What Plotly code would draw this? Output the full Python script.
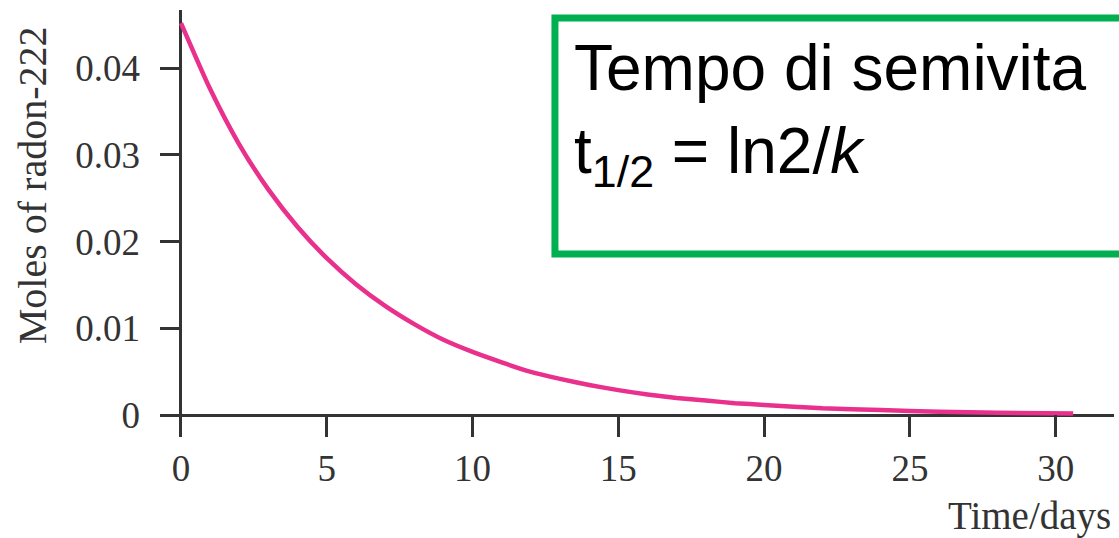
import plotly.graph_objects as go

# values
days = [0, 1, 2, 3, 4, 5, 6, 7, 8, 9, 10, 11, 12, 13, 14, 15, 16, 17, 18, 19,
        20, 22, 24, 26, 28, 30.6]
moles = [0.0452, 0.0376, 0.0312, 0.0260, 0.0217, 0.0181, 0.0151, 0.0126,
         0.0105, 0.0087, 0.0073, 0.0061, 0.0050, 0.0042, 0.0035, 0.0029,
         0.0024, 0.0020, 0.0017, 0.0014, 0.0012, 0.0008, 0.0006, 0.0004,
         0.0003, 0.0002]

x_ticks = [0, 5, 10, 15, 20, 25, 30]
y_ticks = [0, 0.01, 0.02, 0.03, 0.04]
y_tick_text = ['0', '0.01', '0.02', '0.03', '0.04']

axis_col = '#333333'
serif = 'Liberation Serif, Times New Roman, serif'

fig = go.Figure()
fig.add_trace(go.Scatter(x=days, y=moles, mode='lines',
                         line=dict(color='#E8308C', width=4.5, shape='spline', smoothing=0.6),
                         showlegend=False))

fig.update_xaxes(range=[-0.72, 32.0], tickvals=x_ticks, ticks='inside', ticklen=22,
                 tickwidth=3, tickcolor=axis_col, showgrid=False, showline=False,
                 zeroline=True, zerolinecolor=axis_col, zerolinewidth=3,
                 tickfont=dict(family=serif, size=37, color=axis_col),
                 ticklabelstandoff=6)
fig.update_yaxes(range=[-0.0025, 0.0467], tickvals=y_ticks, ticktext=y_tick_text,
                 ticks='inside', ticklen=21, tickwidth=3, tickcolor=axis_col,
                 showgrid=False, showline=False,
                 zeroline=True, zerolinecolor=axis_col, zerolinewidth=3,
                 tickfont=dict(family=serif, size=37, color=axis_col),
                 ticklabelstandoff=19)

# green box with the half-life note
fig.add_shape(type='rect', xref='paper', yref='paper',
              x0=0.414, x1=1.03, y0=0.4286, y1=0.981,
              line=dict(color='#00B050', width=7))
fig.add_annotation(xref='paper', yref='paper', x=0.432, y=0.952,
                   xanchor='left', yanchor='top', align='left', showarrow=False,
                   text='Tempo di semivita<br>t<sub>1/2</sub> = ln2/<i>k</i>',
                   font=dict(family='Liberation Sans, Arial, sans-serif', size=64,
                             color='black'))

fig.add_annotation(xref='paper', yref='paper', x=0.999, y=-0.185,
                   xanchor='right', yanchor='middle', showarrow=False,
                   text='Time/days', font=dict(family=serif, size=39, color=axis_col))
fig.add_annotation(xref='paper', yref='paper', x=-0.134, y=0.59,
                   xanchor='center', yanchor='middle', showarrow=False, textangle=-90,
                   text='Moles of radon-222', font=dict(family=serif, size=40, color=axis_col))

fig.update_layout(width=1119, height=538, plot_bgcolor='white', paper_bgcolor='white',
                  margin=dict(l=160, r=5, t=10, b=101))

fig.write_html("out.html", config={'displayModeBar': False},
               post_script="document.body.style.margin='0';")
